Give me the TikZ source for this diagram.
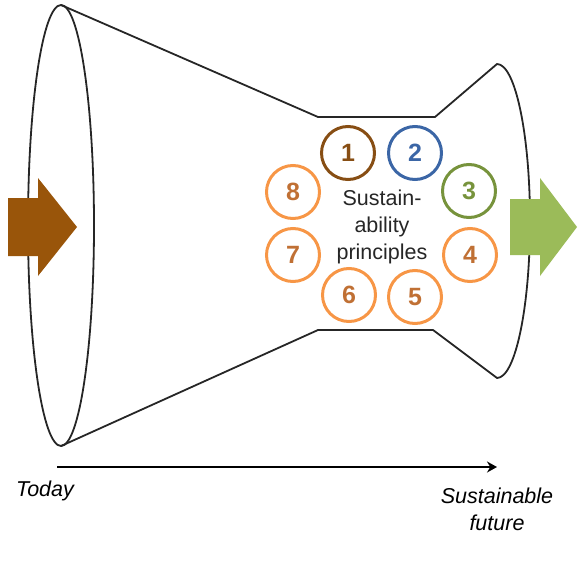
\documentclass[tikz,border=0pt]{standalone}
\usepackage{fontspec}
\setmainfont{Liberation Sans}
\usetikzlibrary{arrows.meta}
\definecolor{arrowbrown}{RGB}{153,85,10}
\definecolor{arrowgreen}{RGB}{155,187,89}
\definecolor{ringbrown}{RGB}{135,78,20}
\definecolor{ringblue}{RGB}{59,102,166}
\definecolor{ringgreen}{RGB}{119,147,60}
\definecolor{ringorange}{RGB}{247,150,70}
\definecolor{numorange}{RGB}{192,112,52}
\tikzset{
  outline/.style={draw=black!85, line width=1.8pt, line join=round},
  ring/.style={circle, line width=3pt, minimum size=53pt, inner sep=0pt,
    font=\fontsize{25}{25}\selectfont\bfseries},
  label/.style={font=\fontsize{21.5}{27}\selectfont\itshape, align=center, inner sep=0pt},
}
\begin{document}
\begin{tikzpicture}[x=1pt,y=-1pt]
\useasboundingbox (0,0) rectangle (585,572);
% funnel outline
\draw[outline] (61,225.5) ellipse [x radius=33, y radius=220.5];
\draw[outline] (61,5) -- (318,117) -- (435,117) -- (497,64)
  arc[start angle=-90, end angle=90, x radius=33, y radius=157]
  -- (433,330) -- (318,330) -- (61,446);
% block arrows
\fill[arrowbrown] (8,198) -- (38,198) -- (38,178) -- (77,227) -- (38,276) -- (38,256) -- (8,256) -- cycle;
\fill[arrowgreen] (510,199) -- (540,199) -- (540,178) -- (577,227) -- (540,276) -- (540,255) -- (510,255) -- cycle;
% principles
\node[ring, draw=ringbrown, text=ringbrown] (p1) at (348,153) {1};
\node[ring, draw=ringblue, text=ringblue] (p2) at (415,153) {2};
\node[ring, draw=ringgreen, text=ringgreen] (p3) at (469,191) {3};
\node[ring, draw=ringorange, text=numorange] (p4) at (470,255) {4};
\node[ring, draw=ringorange, text=numorange] (p5) at (415,297) {5};
\node[ring, draw=ringorange, text=numorange] (p6) at (349,295) {6};
\node[ring, draw=ringorange, text=numorange] (p7) at (293,255) {7};
\node[ring, draw=ringorange, text=numorange] (p8) at (293,192) {8};
\node[align=center, inner sep=0pt, font=\fontsize{21.5}{27}\selectfont, text=black!85] (sp) at (382,227) {Sustain-\\ability\\principles};
% time axis
\coordinate (t0) at (57,467);
\coordinate (t1) at (497,467);
\draw[line width=1.8pt, -{Stealth[length=10pt,width=11pt]}] (t0) -- (t1);
\node[label] (today) at (45,491) {Today};
\node[label] (future) at (497,509) {Sustainable\\future};
\end{tikzpicture}
\end{document}
